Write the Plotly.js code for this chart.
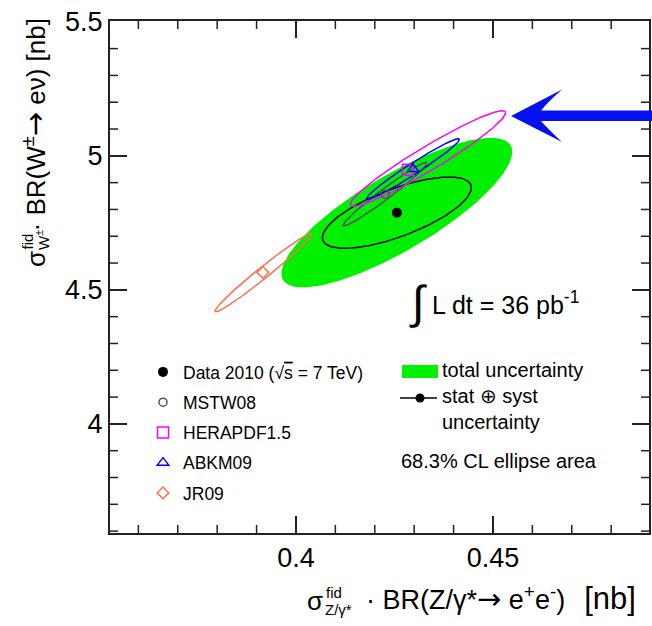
<!DOCTYPE html>
<html><head><meta charset="utf-8">
<script src="https://cdn.plot.ly/plotly-3.0.1.min.js"></script>
<style>html,body{margin:0;padding:0;background:#fff}</style>
</head><body>
<div id="chart" style="width:652px;height:626px"></div>
<script>
// ---- data ----
const dataZ = [0.4256];
const dataW = [4.788];
const totalSig = [0.0293, 0.279];   // sigma_Z, sigma_W (total uncertainty)
const totalRho = [0.813];
const statSig = [0.0189, 0.133];    // stat (+) syst
const statRho = [0.70];
const modelNames = ['MSTW08', 'HERAPDF1.5', 'ABKM09', 'JR09'];
const modelZ = [0.4226, 0.4284, 0.4297, 0.3916];
const modelW = [4.857, 4.948, 4.951, 4.565];
const ellZ = [0.4226, 0.4335, 0.4297, 0.3917];
const ellW = [4.857, 4.990, 4.951, 4.564];
const ellSigZ = [0.0106, 0.0197, 0.0118, 0.0123];
const ellSigW = [0.118, 0.178, 0.113, 0.146];
const ellRho = [0.978, 0.957, 0.976, 0.983];
const modelColors = ['#555555', '#ff00ff', '#0000ff', '#ff6e50'];
const modelSymbols = ['circle-open', 'square-open', 'triangle-up-open', 'diamond-open'];
const modelSizes = [8, 11, 10, 9];
const xRange = [0.3528, 0.4896];
const yRange = [3.593, 5.503];
const xTickStep = [0.05, 0.01];   // major, minor
const yTickStep = [0.5, 0.1];

function ellipse(cx, cy, sx, sy, rho) {
  const n = 240, xs = [], ys = [], s = Math.sqrt(1 - rho * rho);
  for (let i = 0; i <= n; i++) {
    const t = 2 * Math.PI * i / n;
    xs.push(cx + sx * Math.cos(t));
    ys.push(cy + sy * (rho * Math.cos(t) + s * Math.sin(t)));
  }
  return {xs, ys};
}

const traces = [];
const tot = ellipse(dataZ[0], dataW[0], totalSig[0], totalSig[1], totalRho[0]);
traces.push({x: tot.xs, y: tot.ys, type: 'scatter', mode: 'lines', fill: 'toself',
  fillcolor: '#00f000', line: {width: 0, color: '#00f000'}, showlegend: false, hoverinfo: 'skip'});
const jr = ellipse(ellZ[3], ellW[3], ellSigZ[3], ellSigW[3], ellRho[3]);
traces.push({x: jr.xs, y: jr.ys, type: 'scatter', mode: 'lines',
  line: {width: 1.5, color: modelColors[3]}, showlegend: false, hoverinfo: 'skip'});
const st = ellipse(dataZ[0], dataW[0], statSig[0], statSig[1], statRho[0]);
traces.push({x: st.xs, y: st.ys, type: 'scatter', mode: 'lines',
  line: {width: 1.5, color: '#000'}, showlegend: false, hoverinfo: 'skip'});
[0, 2, 1].forEach(i => {
  const e = ellipse(ellZ[i], ellW[i], ellSigZ[i], ellSigW[i], ellRho[i]);
  traces.push({x: e.xs, y: e.ys, type: 'scatter', mode: 'lines',
    line: {width: 1.5, color: modelColors[i]}, showlegend: false, hoverinfo: 'skip'});
});
traces.push({x: dataZ, y: dataW, type: 'scatter', mode: 'markers',
  name: 'Data 2010 (√<span style="text-decoration:overline">s</span> = 7 TeV)',
  marker: {color: '#000', size: 10, symbol: 'circle'}, legendgroup: 'd', legendrank: 1});
modelNames.forEach((nm, i) => {
  traces.push({x: [modelZ[i]], y: [modelW[i]], type: 'scatter', mode: 'markers', name: nm,
    marker: {color: modelColors[i], size: modelSizes[i], symbol: modelSymbols[i], line: {width: 1.5, color: modelColors[i]}},
    legendgroup: 'g' + i, legendrank: i + 2});
});

// pixel -> paper helpers (plot area: left 110, top 21, width 539, height 512)
const PL = 110, PT = 21, PW = 539, PH = 512;
const px = p => (p - PL) / PW;
const py = p => (PT + PH - p) / PH;
const FONT = 'Liberation Sans, Arial, Helvetica, sans-serif';
const ARROW = '<span style="font-family:DejaVu Sans;font-size:29px">→</span>';

function ann(text, x, y, size, opts) {
  return Object.assign({text, x: px(x), y: py(y), xref: 'paper', yref: 'paper', showarrow: false,
    font: {family: FONT, size, color: '#000'}, xanchor: 'left', yanchor: 'middle', borderpad: 0}, opts || {});
}

const annotations = [
  // x axis title
  ann('σ', 324, 601, 26, {xanchor: 'right'}),
  ann('fid', 325, 592, 15),
  ann('Z/γ*', 324, 609, 15),
  ann('· BR(Z/γ*' + ARROW + ' e<sup>+</sup>e<sup>-</sup>)\u2002\u2009<span style="font-size:31px">[nb]</span>', 365, 598, 27),
  // y axis title (rotated)
  ann('σ', 36, 259, 26, {xanchor: 'center', textangle: -90}),
  ann('fid', 26.5, 242, 15, {xanchor: 'center', textangle: -90}),
  ann('W<sup>±</sup>', 42, 240, 15, {xanchor: 'center', textangle: -90}),
  ann('· BR(W<sup>±</sup>' + ARROW + ' eν) [nb]', 34, 18, 26, {xanchor: 'center', yanchor: 'top', textangle: -90}),
  // luminosity
  ann('∫', 418, 302, 46, {xanchor: 'center'}),
  ann('L dt = 36 pb<sup>-1</sup>', 431, 303, 25),
  // second legend
  ann('total uncertainty', 441, 370, 20),
  ann('stat ⊕ syst<br>uncertainty', 441, 409, 20, {align: 'left'}),
  ann('68.3% CL ellipse area', 400, 461, 20),
];

// big blue arrow (pixel geometry -> paper)
const P = p => px(p[0]).toFixed(5) + ',' + py(p[1]).toFixed(5);
const arrowPath = 'M' + P([511,116]) + ' L' + P([562,89.5]) + ' Q' + P([548,102]) + ' ' + P([541,110.5]) +
  ' L' + P([660,110.5]) + ' L' + P([660,121]) + ' L' + P([541,121]) + ' Q' + P([548,129]) + ' ' + P([562,142]) + ' Z';

const shapes = [
  {type: 'path', xref: 'paper', yref: 'paper', path: arrowPath, fillcolor: '#0510f0', line: {width: 0}, layer: 'above'},
  {type: 'rect', xref: 'paper', yref: 'paper', x0: px(402), x1: px(438), y0: py(378), y1: py(365),
   fillcolor: '#00f000', line: {width: 0}, layer: 'above'},
  {type: 'line', xref: 'paper', yref: 'paper', x0: px(400), x1: px(437), y0: py(398), y1: py(398),
   line: {width: 1.5, color: '#000'}, layer: 'above'},
  {type: 'circle', xref: 'paper', yref: 'paper', x0: px(415.5), x1: px(424.5), y0: py(402.5), y1: py(393.5),
   fillcolor: '#000', line: {width: 0}, layer: 'above'},
];

// minor ticks on all four sides (inside), at the minor tick values (paper coords)
const MIN = 8, TICKC = '#222';
function addMinorTicks(range, step, majorEvery, isX) {
  const i0 = Math.ceil(range[0] / step[1] - 1e-9), i1 = Math.floor(range[1] / step[1] + 1e-9);
  for (let i = i0; i <= i1; i++) {
    if (i % majorEvery === 0) continue;   // majors drawn by the axis itself
    const f = (i * step[1] - range[0]) / (range[1] - range[0]);
    const ln = {width: 1.5, color: TICKC};
    if (isX) {
      shapes.push({type: 'line', xref: 'paper', yref: 'paper', x0: f, x1: f, y0: 0, y1: MIN / PH, line: ln, layer: 'above'});
      shapes.push({type: 'line', xref: 'paper', yref: 'paper', x0: f, x1: f, y0: 1, y1: 1 - MIN / PH, line: ln, layer: 'above'});
    } else {
      shapes.push({type: 'line', xref: 'paper', yref: 'paper', y0: f, y1: f, x0: 0, x1: MIN / PW, line: ln, layer: 'above'});
      shapes.push({type: 'line', xref: 'paper', yref: 'paper', y0: f, y1: f, x0: 1, x1: 1 - MIN / PW, line: ln, layer: 'above'});
    }
  }
}
addMinorTicks(xRange, xTickStep, Math.round(xTickStep[0] / xTickStep[1]), true);
addMinorTicks(yRange, yTickStep, Math.round(yTickStep[0] / yTickStep[1]), false);

const axisCommon = {
  showline: true, linecolor: '#222', linewidth: 2, mirror: 'allticks',
  ticks: 'inside', ticklen: 17, tickwidth: 1.8, tickcolor: TICKC,
  tickmode: 'linear', tick0: 0, showgrid: false, zeroline: false,
  tickfont: {family: FONT, size: 27, color: '#000'}
};

const layout = {
  width: 652, height: 626,
  margin: {l: PL, r: 652 - PL - PW, t: PT, b: 626 - PT - PH, pad: 0},
  paper_bgcolor: '#fff', plot_bgcolor: '#fff',
  font: {family: FONT, color: '#000'},
  showlegend: true,
  legend: {x: px(143), y: py(354), xanchor: 'left', yanchor: 'top', bgcolor: 'rgba(0,0,0,0)',
    font: {family: FONT, size: 17.5, color: '#000'}, tracegroupgap: 4.5, borderwidth: 0, itemwidth: 30},
  xaxis: Object.assign({}, axisCommon, {range: xRange, dtick: xTickStep[0]}),
  yaxis: Object.assign({}, axisCommon, {range: yRange, dtick: yTickStep[0]}),
  annotations, shapes
};

Plotly.newPlot('chart', traces, layout, {displayModeBar: false});
</script>
</body></html>
